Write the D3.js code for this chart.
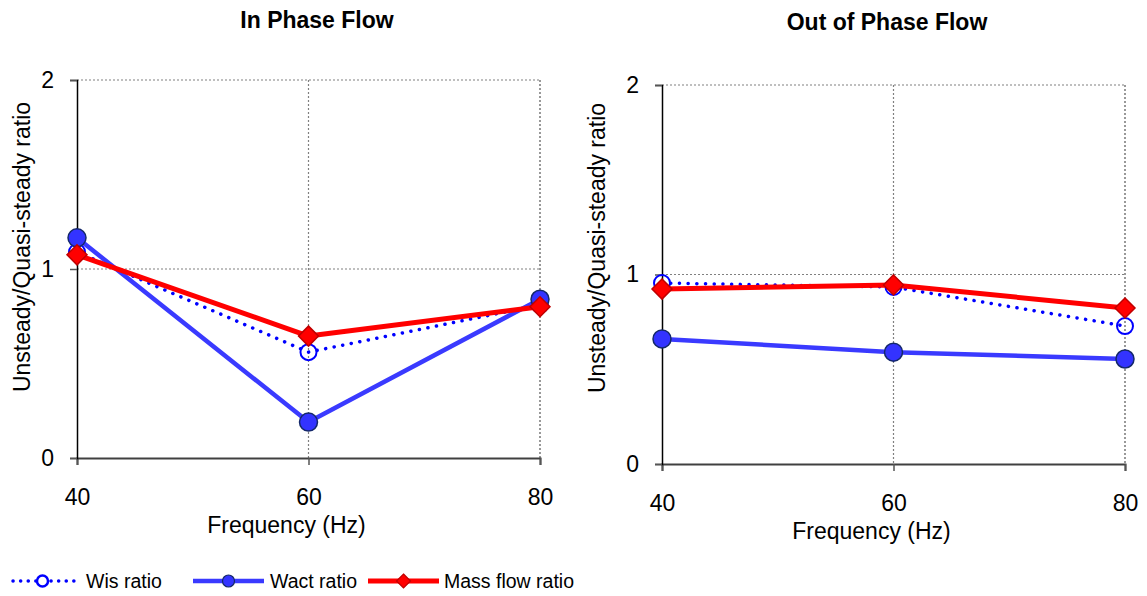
<!DOCTYPE html>
<html><head><meta charset="utf-8">
<script src="https://cdn.jsdelivr.net/npm/d3@7"></script>
<style>body{margin:0;background:#fff;}svg{display:block;font-family:"Liberation Sans",Arial,sans-serif;}</style>
</head><body>
<svg id="c" width="1147" height="596"></svg>
<script>
const freqs = [40, 60, 80];
const yTicks = [0, 1, 2];
const inWis = [1.09, 0.56, 0.81];
const inWact = [1.165, 0.19, 0.84];
const inMass = [1.075, 0.645, 0.80];
const outWis = [0.955, 0.934, 0.728];
const outWact = [0.66, 0.59, 0.554];
const outMass = [0.923, 0.945, 0.823];
const titles = ["In Phase Flow", "Out of Phase Flow"];
const seriesNames = ["Wis ratio", "Wact ratio", "Mass flow ratio"];

const svg = d3.select("#c");
const panels = [
  {title: titles[0], x0: 77, x1: 540, y0: 458, y1: 80, titleX: 317, titleY: 28, data: [inWis, inWact, inMass], ylabX: 30, ylabY: 247},
  {title: titles[1], x0: 662, x1: 1125, y0: 464, y1: 85, titleX: 887, titleY: 30, data: [outWis, outWact, outMass], ylabX: 605, ylabY: 248}
];

const styles = [
  {color: "#0000ff", width: 3.5, dash: "0.1 8.6", marker: "hollow"},
  {color: "#3a3aff", width: 4.5, dash: null, marker: "circle"},
  {color: "#ff0000", width: 5, dash: null, marker: "diamond"}
];

function drawMarker(g, type, x, y) {
  if (type === "hollow") {
    g.append("circle").attr("cx", x).attr("cy", y).attr("r", 8).attr("fill", "none").attr("stroke", "#0000ff").attr("stroke-width", 2);
  } else if (type === "circle") {
    g.append("circle").attr("cx", x).attr("cy", y).attr("r", 9).attr("fill", "#3333ff").attr("stroke", "#14286a").attr("stroke-width", 1.5);
  } else {
    const s = 10;
    g.append("path").attr("d", `M${x},${y-s}L${x+s},${y}L${x},${y+s}L${x-s},${y}Z`).attr("fill", "#ff0000").attr("stroke", "#c00000").attr("stroke-width", 1.5);
  }
}

panels.forEach(p => {
  const x = d3.scaleLinear().domain([40, 80]).range([p.x0, p.x1]);
  const y = d3.scaleLinear().domain([0, 2]).range([p.y0, p.y1]);
  const g = svg.append("g");

  // gridlines
  g.append("g").selectAll("line.h").data([1, 2]).join("line")
    .attr("x1", p.x0).attr("x2", p.x1).attr("y1", d => y(d)).attr("y2", d => y(d))
    .attr("stroke", "#808080").attr("stroke-width", 1.2).attr("stroke-dasharray", "2 2");
  g.append("g").selectAll("line.v").data([60, 80]).join("line")
    .attr("x1", d => x(d)).attr("x2", d => x(d)).attr("y1", p.y1).attr("y2", p.y0)
    .attr("stroke", d => d === 80 ? "#555" : "#808080").attr("stroke-width", 1.2).attr("stroke-dasharray", "2 2");

  // x axis
  const xa = d3.axisBottom(x).tickValues(freqs).tickSize(7).tickPadding(40).tickFormat(d3.format("d"));
  const xg = g.append("g").attr("transform", `translate(0,${p.y0})`).call(xa);
  xg.select(".domain").attr("stroke", "#404040").attr("stroke-width", 2);
  xg.selectAll(".tick line").attr("stroke", "#555").attr("stroke-width", 1.5);
  xg.selectAll("text").attr("font-size", 23).attr("fill", "#000").attr("font-family", "Liberation Sans, Arial, sans-serif").attr("dy", "0");

  // y axis
  const ya = d3.axisLeft(y).tickValues(yTicks).tickSize(7).tickPadding(16).tickFormat(d3.format("d"));
  const yg = g.append("g").attr("transform", `translate(${p.x0},0)`).call(ya);
  yg.select(".domain").attr("stroke", "#000").attr("stroke-width", 1.5);
  yg.selectAll(".tick line").attr("stroke", "#555").attr("stroke-width", 1.5);
  yg.selectAll("text").attr("font-size", 23).attr("fill", "#000").attr("font-family", "Liberation Sans, Arial, sans-serif");

  // labels
  g.append("text").attr("x", p.titleX).attr("y", p.titleY).attr("text-anchor", "middle")
    .attr("font-size", 23).attr("font-weight", "bold").text(p.title);
  g.append("text").attr("x", (p.x0 + p.x1) / 2 - 22).attr("y", p.y0 + 75).attr("text-anchor", "middle")
    .attr("font-size", 23).text("Frequency (Hz)");
  g.append("text").attr("transform", `translate(${p.ylabX},${p.ylabY}) rotate(-90)`).attr("text-anchor", "middle")
    .attr("font-size", 23).text("Unsteady/Quasi-steady ratio");

  // series
  p.data.forEach((vals, i) => {
    const st = styles[i];
    const pts = freqs.map((f, j) => [x(f), y(vals[j])]);
    const line = d3.line();
    const sg = g.append("g");
    const path = sg.append("path").attr("d", line(pts)).attr("fill", "none")
      .attr("stroke", st.color).attr("stroke-width", st.width).attr("stroke-linejoin", "round");
    if (st.dash) path.attr("stroke-dasharray", st.dash).attr("stroke-linecap", "round");
    pts.forEach(pt => drawMarker(sg, st.marker, pt[0], pt[1]));
  });
});

// legend
const legendItems = [
  {x1: 13, x2: 80, tx: 86},
  {x1: 193, x2: 264, tx: 270},
  {x1: 368, x2: 439, tx: 444}
];
const ly = 581;
const lg = svg.append("g");
legendItems.forEach((it, i) => {
  const st = styles[i];
  const l = lg.append("line").attr("x1", it.x1).attr("x2", it.x2).attr("y1", ly).attr("y2", ly)
    .attr("stroke", st.color).attr("stroke-width", st.width);
  if (st.dash) l.attr("stroke-dasharray", "0.1 7.5").attr("stroke-linecap", "round");
  const mx = (it.x1 + it.x2) / 2;
  if (st.marker === "hollow") {
    lg.append("circle").attr("cx", mx - 4).attr("cy", ly).attr("r", 5.5).attr("fill", "#fff").attr("stroke", "#0000ff").attr("stroke-width", 2.5);
  } else if (st.marker === "circle") {
    lg.append("circle").attr("cx", mx).attr("cy", ly).attr("r", 6).attr("fill", "#3333ff").attr("stroke", "#14286a").attr("stroke-width", 1.2);
  } else {
    const s = 7;
    lg.append("path").attr("d", `M${mx},${ly-s}L${mx+s},${ly}L${mx},${ly+s}L${mx-s},${ly}Z`).attr("fill", "#ff0000").attr("stroke", "#c00000").attr("stroke-width", 1.2);
  }
  lg.append("text").attr("x", it.tx).attr("y", ly + 7).attr("font-size", 19.5).text(seriesNames[i]);
});
</script>
</body></html>
